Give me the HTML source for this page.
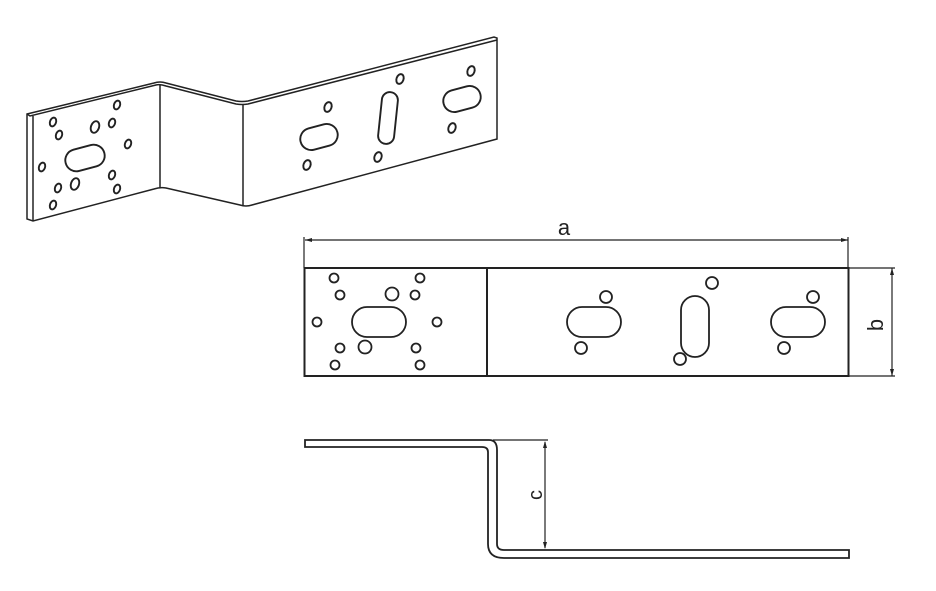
<!DOCTYPE html>
<html><head><meta charset="utf-8"><style>html,body{margin:0;padding:0;background:#fff}svg{display:block}</style></head><body>
<svg width="936" height="591" viewBox="0 0 936 591" xmlns="http://www.w3.org/2000/svg" fill="none" stroke="#222" stroke-width="1.6">
<!-- 3D view -->
<g stroke-width="1.5">
<path d="M27,114 L154,83 Q160,81 166,83 L236,101 Q242,102 248,101 L494,37 L497,38 L497,139 L252,205 Q246,207 240,205 L166,188 Q160,187 154,189 L33,221 L27,219 Z"/>
<path d="M33,116 L33,221"/>
<path d="M27,114 L30,116 L156,85 Q160,84 166,86 L236,104 Q242,105 248,104 L497,40"/>
<path d="M160,85 L160,188 M243,104 L243,205"/>
<g stroke-width="1.9">
<ellipse cx="53" cy="122" rx="3" ry="4.5" transform="rotate(20 53 122)"/>
<ellipse cx="59" cy="135" rx="3" ry="4.5" transform="rotate(20 59 135)"/>
<ellipse cx="117" cy="105" rx="3" ry="4.5" transform="rotate(20 117 105)"/>
<ellipse cx="112" cy="123" rx="3" ry="4.5" transform="rotate(20 112 123)"/>
<ellipse cx="95" cy="127" rx="4" ry="6" transform="rotate(20 95 127)"/>
<ellipse cx="128" cy="144" rx="3" ry="4.5" transform="rotate(20 128 144)"/>
<ellipse cx="42" cy="167" rx="3" ry="4.5" transform="rotate(20 42 167)"/>
<ellipse cx="58" cy="188" rx="3" ry="4.5" transform="rotate(20 58 188)"/>
<ellipse cx="75" cy="184" rx="4" ry="6" transform="rotate(20 75 184)"/>
<ellipse cx="112" cy="175" rx="3" ry="4.5" transform="rotate(20 112 175)"/>
<ellipse cx="117" cy="189" rx="3" ry="4.5" transform="rotate(20 117 189)"/>
<ellipse cx="53" cy="205" rx="3" ry="4.5" transform="rotate(20 53 205)"/>
<rect x="65" y="147" width="40" height="22" rx="11" transform="rotate(-15 85 158)"/>
<ellipse cx="328" cy="107" rx="3.5" ry="5" transform="rotate(20 328 107)"/>
<ellipse cx="307" cy="165" rx="3.5" ry="5" transform="rotate(20 307 165)"/>
<ellipse cx="400" cy="79" rx="3.5" ry="5" transform="rotate(20 400 79)"/>
<ellipse cx="378" cy="157" rx="3.5" ry="5" transform="rotate(20 378 157)"/>
<ellipse cx="471" cy="71" rx="3.5" ry="5" transform="rotate(20 471 71)"/>
<ellipse cx="452" cy="128" rx="3.5" ry="5" transform="rotate(20 452 128)"/>
<rect x="300" y="126" width="38" height="22" rx="11" transform="rotate(-15 319 137)"/>
<rect x="443" y="88" width="38" height="22" rx="11" transform="rotate(-15 462 99)"/>
<rect x="380" y="92" width="16" height="52" rx="8" transform="rotate(6 388 118)"/>
</g>
</g>
<!-- plan view -->
<rect x="304.5" y="268" width="544" height="108" stroke-width="2"/>
<path d="M487,268 V376" stroke-width="2"/>
<path d="M848,268 V237 M304,268 V237" stroke-width="1.2"/>
<path d="M305,240 H848" stroke-width="1.2"/>
<path d="M305,240 l7,-2 v4 z M848,240 l-7,-2 v4 z" fill="#222" stroke="none"/>
<text x="564" y="235" font-family="Liberation Sans Narrow, Liberation Sans, sans-serif" font-size="22" fill="#222" stroke="none" text-anchor="middle">a</text>
<path d="M849,268 H895 M849,376 H895 M892,268 V376" stroke-width="1.2"/>
<path d="M892,268 l-2,7 h4 z M892,376 l-2,-7 h4 z" fill="#222" stroke="none"/>
<text x="0" y="0" transform="translate(883,325) rotate(-90)" font-family="Liberation Sans Narrow, Liberation Sans, sans-serif" font-size="22" fill="#222" stroke="none" text-anchor="middle">b</text>
<g stroke-width="1.8">
<circle cx="334" cy="278" r="4.5"/><circle cx="340" cy="295" r="4.5"/>
<circle cx="420" cy="278" r="4.5"/><circle cx="415" cy="295" r="4.5"/>
<circle cx="392" cy="294" r="6.5"/>
<circle cx="317" cy="322" r="4.5"/><circle cx="437" cy="322" r="4.5"/>
<circle cx="340" cy="348" r="4.5"/><circle cx="365" cy="347" r="6.5"/>
<circle cx="416" cy="348" r="4.5"/>
<circle cx="335" cy="365" r="4.5"/><circle cx="420" cy="365" r="4.5"/>
<rect x="352" y="307" width="54" height="30" rx="15"/>
<rect x="567" y="307" width="54" height="30" rx="15"/>
<rect x="771" y="307" width="54" height="30" rx="15"/>
<rect x="681" y="296" width="28" height="61" rx="14"/>
<circle cx="606" cy="297" r="6"/><circle cx="581" cy="348" r="6"/>
<circle cx="712" cy="283" r="6"/><circle cx="680" cy="359" r="6"/>
<circle cx="813" cy="297" r="6"/><circle cx="784" cy="348" r="6"/>
</g>
<!-- side view -->
<path d="M305,440 H489 Q497,440 497,450 V544 Q497,550 504,550 H849 V558 H504 Q488,558 488,544 V452 Q488,447 482,447 H305 Z" stroke-width="1.8"/>
<path d="M493,440 H548 M545,442 V548" stroke-width="1.2"/>
<path d="M545,441 l-2,7 h4 z M545,549 l-2,-7 h4 z" fill="#222" stroke="none"/>
<text x="0" y="0" transform="translate(542,495) rotate(-90)" font-family="Liberation Sans Narrow, Liberation Sans, sans-serif" font-size="20" fill="#222" stroke="none" text-anchor="middle">c</text>
</svg>
</body></html>
